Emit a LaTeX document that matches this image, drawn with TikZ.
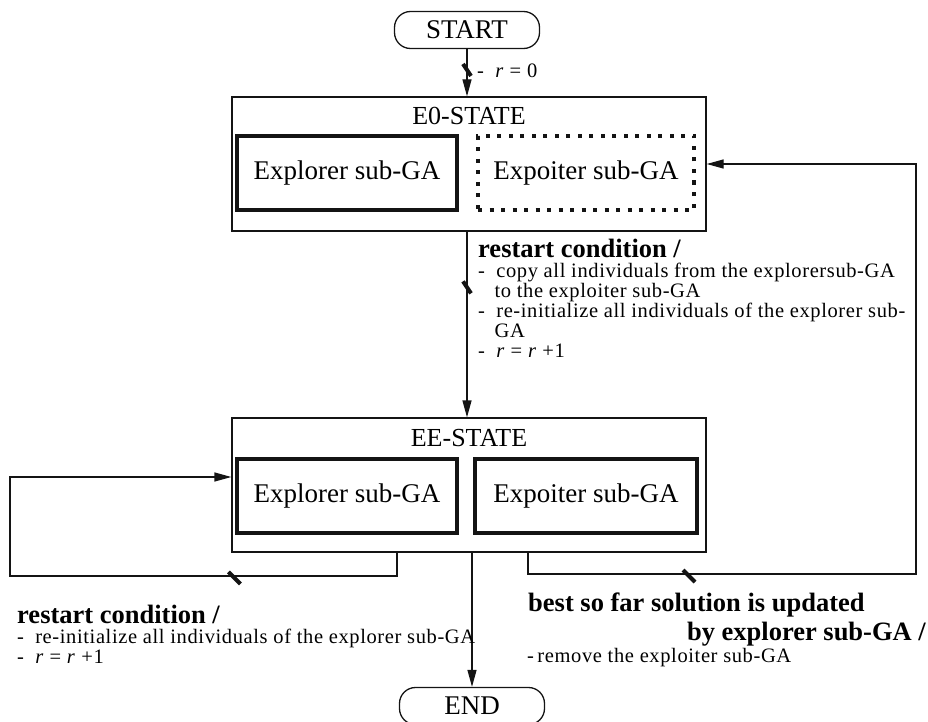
\documentclass[tikz,border=0pt]{standalone}
\usepackage{fontspec}
\setmainfont{Liberation Serif}
\newfontfamily\notefamily{Liberation Serif}[LetterSpace=3]
\usetikzlibrary{arrows.meta,positioning,calc}
\definecolor{ink}{RGB}{20,20,20}
\newcommand{\boxfnt}{\fontsize{27}{30}\selectfont}
\newcommand{\condfnt}{\fontsize{26.5}{28}\selectfont\bfseries}
\newcommand{\notefnt}{\notefamily\fontsize{20.5}{20}\selectfont\lineskiplimit=-30pt}
\newcommand{\hy}{-\hspace{0.55em}}
\newcommand{\hang}{\hspace*{0.8em}}
\tikzset{
  term/.style={draw=ink,rounded corners=16pt,line width=1.3pt,minimum width=145pt,
    minimum height=37pt,inner sep=0pt,font=\boxfnt},
  state/.style={draw=ink,line width=1.3pt,minimum width=474pt,minimum height=134pt},
  title/.style={inner sep=0pt,font=\fontsize{26}{28}\selectfont},
  sub/.style={draw=ink,line width=4pt,minimum width=220pt,minimum height=74pt,
    inner sep=0pt,font=\boxfnt},
  arr/.style={-{Triangle[length=17pt,width=9pt]},line width=1.3pt,ink},
  tick/.style={line width=4pt,ink},
  cond/.style={inner sep=0pt,font=\condfnt},
  note/.style={inner sep=0pt,align=left,font=\notefnt},
}

\begin{document}
\begin{tikzpicture}[x=1pt,y=-1pt]
\useasboundingbox (0,0) rectangle (928,722);
% terminals
\node[term] (start) at (467,30) {START};
\node[term] (end) at (472,706) {END};
% E0-STATE
\node[state] (e0) at (469,164) {};
\node[title] (e0t) at (469,116) {E0-STATE};
\node[sub] (e0x) at (347,173) {Explorer sub-GA};
\node[sub,right=17pt of e0x,minimum width=216pt,dash pattern=on 4pt off 7.5pt] (e0p) {Expoiter sub-GA};
% EE-STATE
\node[state] (ee) at (469,485) {};
\node[title] (eet) at (469,438) {EE-STATE};
\node[sub] (eex) at (347,496) {Explorer sub-GA};
\node[sub,right=14pt of eex,minimum width=222pt] (eep) {Expoiter sub-GA};
% transitions
\draw[arr] (start.south) -- coordinate[pos=0.44] (t1) (start.south |- e0.north);
\draw[arr] (e0.south -| start) -- coordinate[pos=0.3] (t2) (ee.north -| start);
\draw[arr] (ee.south -| end) -- (end);
\coordinate (lturn) at (397,576);
\coordinate (lback) at (10,576);
\draw[arr] (lturn |- ee.south) -- (lturn) -- coordinate[pos=0.42] (t3) (lback)
  |- ([yshift=8pt]ee.west);
\coordinate (rturn) at (528,574);
\coordinate (rback) at (916,574);
\draw[arr] (rturn |- ee.south) -- (rturn) -- coordinate[pos=0.415] (t4) (rback)
  |- (e0.east);
\foreach \t in {t1,t2} \draw[tick] (\t) +(-4,-6) -- +(4,6);
\foreach \t in {t3,t4} \draw[tick] ([yshift=-2pt]\t) +(-6,-6) -- +(6,6);
% conditions
\node[note,anchor=west] (r0) at (477,71) {\hy\textit{r} = 0};
\node[cond,anchor=west] (c1) at (478,248) {restart condition /};
\node[note,below=5pt of c1.south west,anchor=north west] (c1n)
  {\hy copy all individuals from the explorersub-GA\\
   \hang to the exploiter sub-GA\\
   \hy re-initialize all individuals of the explorer sub-\\
   \hang GA\\
   \hy\textit{r} = \textit{r} +1};
\node[cond,anchor=west] (c2) at (17,614) {restart condition /};
\node[note,below=5pt of c2.south west,anchor=north west] (c2n)
  {\hy re-initialize all individuals of the explorer sub-GA\\
   \hy\textit{r} = \textit{r} +1};
\node[cond,anchor=west] (c3) at (528,605) {best so far solution is updated};
\node[cond,anchor=east] (c3b) at (926,634) {by explorer sub-GA /};
\node[note,anchor=west] (c3n) at (527,658) {-\,remove the exploiter sub-GA};
\end{tikzpicture}
\end{document}
